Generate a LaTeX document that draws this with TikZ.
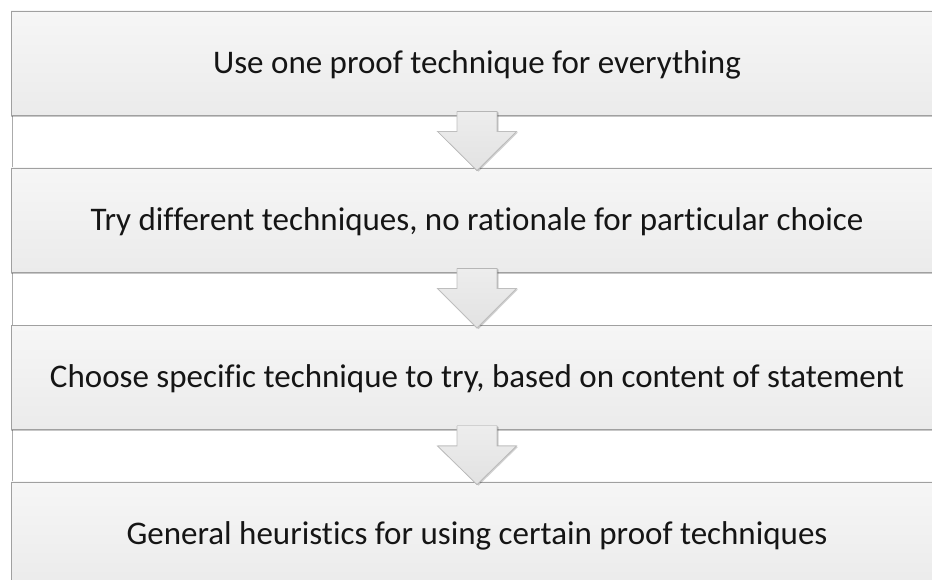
\documentclass[tikz,border=0pt]{standalone}
\usepackage{fontspec}
\setmainfont[Ligatures=NoCommon]{Carlito}
\usetikzlibrary{shadows,calc}
\definecolor{boxtop}{HTML}{F6F6F6}
\definecolor{boxbot}{HTML}{EBEBEB}
\definecolor{boxline}{HTML}{A0A0A0}
\definecolor{arrtop}{HTML}{EDEDED}
\definecolor{arrbot}{HTML}{E2E2E2}
\definecolor{arrline}{HTML}{BEBEBE}
\definecolor{txt}{HTML}{151515}
\definecolor{rule}{HTML}{ABABAB}
\tikzset{
  stagebox/.style={draw=boxline, line width=0.9pt, top color=boxtop, bottom color=boxbot,
    minimum width=932pt, minimum height=104pt, inner sep=0pt,
    text height=21pt, text depth=0pt, text=txt, font=\fontsize{33}{40}\selectfont,
    drop shadow={shadow xshift=0pt, shadow yshift=-2pt, opacity=0.22, fill=black}},
  arrowbody/.style={top color=arrtop, bottom color=arrbot,
    drop shadow={shadow xshift=1.5pt, shadow yshift=-1pt, opacity=0.18, fill=black}},
  arrowedge/.style={draw=arrline, line width=0.8pt, line join=miter}
}
% block arrow from the bottom of one stage to the top of the next
\newcommand\stagearrow[2]{%
  \fill[arrowbody] ($(#1.south)+(-20,4)$) -- ($(#1.south)+(-20,-16)$) -- ($(#1.south)+(-39.5,-16)$)
    -- ($(#2.north)+(0,-3)$) -- ($(#1.south)+(39.5,-16)$) -- ($(#1.south)+(20,-16)$)
    -- ($(#1.south)+(20,4)$) -- cycle;
  \draw[arrowedge] ($(#1.south)+(-20,4)$) -- ($(#1.south)+(-20,-16)$) -- ($(#1.south)+(-39.5,-16)$)
    -- ($(#2.north)+(0,-3)$) -- ($(#1.south)+(39.5,-16)$) -- ($(#1.south)+(20,-16)$)
    -- ($(#1.south)+(20,4)$);
}
\begin{document}
\begin{tikzpicture}[x=1pt,y=1pt]
\useasboundingbox (0,0) rectangle (932,580);
\fill[white] (0,0) rectangle (932,580);
% thin frame line on the left
\coordinate (ruletop) at (12.5,569);
\coordinate (rulebot) at (12.5,0);
\draw[rule, line width=0.6pt] (ruletop) -- (rulebot);

\node[stagebox] (s1) at (477,517) {Use one proof technique for everything};
\node[stagebox] (s2) at (477,360) {Try different techniques, no rationale for particular choice};
\node[stagebox] (s3) at (477,202.5) {Choose specific technique to try, based on content of statement};
\node[stagebox] (s4) at (477,46) {General heuristics for using certain proof techniques};

\stagearrow{s1}{s2}
\stagearrow{s2}{s3}
\stagearrow{s3}{s4}
\end{tikzpicture}
\end{document}
